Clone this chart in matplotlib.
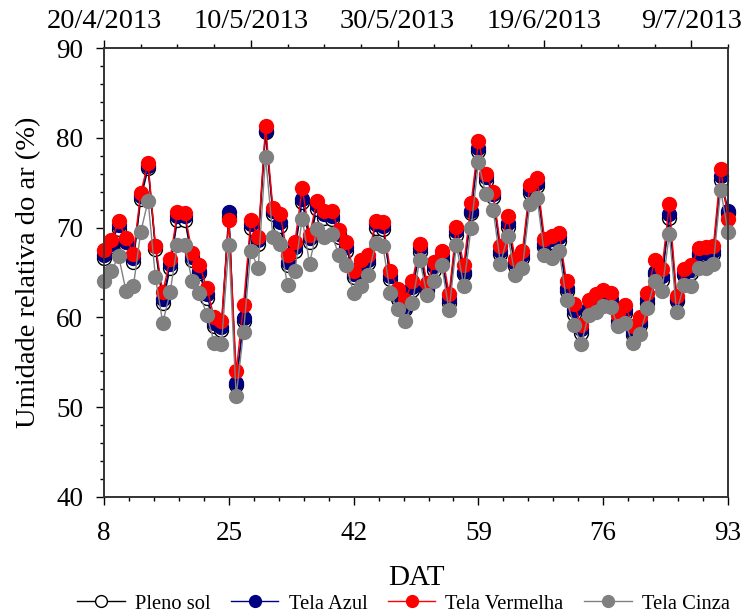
import matplotlib
matplotlib.use("Agg")
import matplotlib.pyplot as plt
import numpy as np
from matplotlib.ticker import MultipleLocator, FixedLocator

plt.rcParams["font.family"] = ["Liberation Serif", "DejaVu Serif"]

dat = list(range(8, 94))

pleno_sol = [66.6, 67.9, 69.9, 68.0, 66.2, 73.2, 76.6, 67.6, 61.6, 65.5,
             70.9, 70.9, 66.4, 64.9, 62.2, 59.0, 58.6, 71.2, 52.5, 59.6,
             70.0, 68.2, 80.6, 71.5, 70.2, 65.8, 67.4, 72.9, 68.4, 72.1,
             71.1, 71.0, 68.9, 67.4, 64.5, 65.4, 66.1, 70.0, 69.9, 64.3,
             62.0, 60.9, 63.0, 67.3, 63.0, 65.3, 66.4, 61.6, 69.2, 64.8,
             71.6, 78.5, 75.2, 73.4, 67.1, 70.1, 65.7, 66.6, 73.9, 74.6,
             67.8, 68.4, 68.5, 62.9, 60.4, 58.3, 60.8, 61.5, 62.1, 61.7,
             59.2, 60.5, 58.0, 59.1, 61.6, 64.8, 64.2, 71.1, 61.8, 64.7,
             65.0, 66.9, 66.9, 67.1, 75.3, 71.6]

tela_azul = [67.0, 68.2, 70.3, 68.4, 66.6, 73.5, 76.9, 67.9, 62.1, 65.9,
             71.3, 71.3, 66.7, 65.2, 62.6, 59.4, 58.9, 71.7, 52.7, 59.9,
             70.4, 68.6, 80.8, 71.8, 70.6, 66.2, 67.8, 73.2, 68.8, 72.5,
             71.5, 71.3, 69.3, 67.8, 64.8, 65.8, 66.4, 70.4, 70.2, 64.6,
             62.4, 61.2, 63.4, 67.7, 63.3, 65.7, 66.8, 62.0, 69.6, 65.1,
             71.9, 78.9, 75.6, 73.7, 67.4, 70.5, 66.1, 67.0, 74.2, 75.0,
             68.2, 68.7, 68.9, 63.3, 60.8, 58.7, 61.2, 61.8, 62.4, 62.0,
             59.6, 60.8, 58.4, 59.5, 62.0, 65.1, 64.6, 71.5, 62.1, 65.0,
             65.3, 67.2, 67.2, 67.4, 75.7, 71.9]

tela_vermelha = [67.5, 68.6, 70.7, 68.8, 67.1, 73.9, 77.2, 68.0, 62.8, 66.5,
                 71.7, 71.6, 67.2, 65.8, 63.3, 60.0, 59.6, 70.9, 54.0, 61.4,
                 70.9, 68.9, 81.3, 72.2, 71.5, 66.9, 68.4, 74.4, 69.2, 73.0,
                 71.9, 71.9, 69.7, 68.4, 65.2, 66.4, 66.9, 70.7, 70.6, 65.2,
                 63.2, 61.9, 64.0, 68.2, 63.8, 66.2, 67.4, 62.6, 70.1, 65.8,
                 72.7, 79.6, 76.0, 74.0, 68.0, 71.3, 66.5, 67.4, 74.7, 75.5,
                 68.7, 69.1, 69.4, 64.0, 61.5, 59.2, 61.9, 62.6, 63.1, 62.7,
                 60.3, 61.4, 59.0, 60.0, 62.7, 66.4, 65.4, 72.6, 62.4, 65.4,
                 65.8, 67.7, 67.8, 67.9, 76.5, 71.0]

tela_cinza = [64.1, 65.2, 66.8, 62.9, 63.5, 69.5, 73.0, 64.5, 59.4, 62.8,
              68.1, 68.1, 64.0, 62.7, 60.3, 57.2, 57.0, 68.1, 51.2, 58.4,
              67.4, 65.5, 77.9, 69.0, 68.2, 63.6, 65.2, 71.0, 66.0, 69.8,
              68.9, 69.3, 66.9, 65.8, 62.7, 63.5, 64.7, 68.3, 67.9, 62.7,
              60.9, 59.6, 61.6, 66.4, 62.5, 64.1, 65.8, 60.8, 68.1, 63.5,
              70.0, 77.3, 73.7, 72.0, 66.0, 69.1, 64.7, 65.5, 72.6, 73.3,
              66.9, 66.6, 67.4, 61.9, 59.2, 57.0, 60.3, 60.6, 61.3, 61.2,
              59.0, 59.4, 57.1, 58.1, 61.0, 64.0, 62.9, 69.3, 60.6, 63.6,
              63.5, 65.5, 65.5, 65.9, 74.2, 69.5]

bottom_ticks = [8, 25, 42, 59, 76, 93]
top_ticks = [8, 28, 48, 68, 88]
top_labels = ["20/4/2013", "10/5/2013", "30/5/2013", "19/6/2013", "9/7/2013"]

fig = plt.figure(figsize=(7.5, 6.15), dpi=100)
ax = fig.add_axes([0.1387, 0.1919, 0.832, 0.730])

series = [
    ("Pleno sol", pleno_sol, "black", "white", "black"),
    ("Tela Azul", tela_azul, "#000080", "#000080", "#000080"),
    ("Tela Vermelha", tela_vermelha, "red", "red", "red"),
    ("Tela Cinza", tela_cinza, "gray", "gray", "gray"),
]
for name, vals, lc, fc, ec in series:
    ax.plot(dat, vals, "-o", color=lc, lw=1.0, markersize=10,
            markerfacecolor=fc, markeredgecolor=ec, markeredgewidth=1.0,
            label=name, clip_on=False, zorder=3)

ax.set_xlim(8, 93)
ax.set_ylim(40, 90)
ax.set_xticks(bottom_ticks)
ax.xaxis.set_minor_locator(FixedLocator(np.arange(8, 93.01, 3.4)))
ax.yaxis.set_major_locator(MultipleLocator(10))
ax.yaxis.set_minor_locator(MultipleLocator(2))
ax.tick_params(axis="both", which="major", direction="out", length=6,
               width=1, labelsize=19.5)
ax.tick_params(axis="both", which="minor", direction="out", length=3, width=1)
ax.tick_params(axis="x", which="major", pad=11)
ax.tick_params(axis="y", which="major", pad=9)

top = ax.twiny()
top.set_xlim(8, 93)
top.set_xticks(top_ticks)
top.set_xticklabels(top_labels)
top.xaxis.set_minor_locator(FixedLocator(np.arange(8, 94, 5)))
top.tick_params(axis="x", which="major", direction="out", length=6, width=1,
                labelsize=20.5, pad=4)
top.tick_params(axis="x", which="minor", direction="out", length=3, width=1)

for a in (ax, top):
    for sp in a.spines.values():
        sp.set_color("#333333")
        sp.set_linewidth(1.2)

ax.set_xlabel("DAT", fontsize=21, labelpad=14)
ax.set_ylabel("Umidade relativa do ar (%)", fontsize=20.5, labelpad=11)

leg = ax.legend(loc="center", bbox_to_anchor=(0.48, -0.238), ncol=4,
                frameon=False, fontsize=14.8, handlelength=2.3,
                handletextpad=0.5, columnspacing=1.0, borderaxespad=0,
                markerscale=0.85)

fig.savefig("out.png", dpi=100)
